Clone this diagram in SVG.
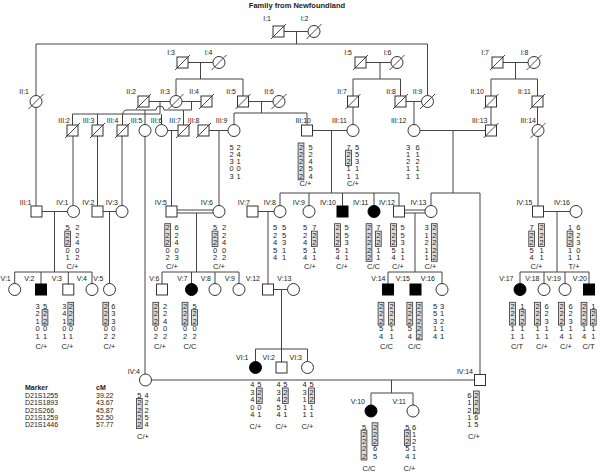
<svg xmlns="http://www.w3.org/2000/svg" xmlns:xlink="http://www.w3.org/1999/xlink" width="600" height="474" viewBox="0 0 600 474">
<style>
.sy{fill:#fff;stroke:#333;stroke-width:1}
.af{fill:#000;stroke:#000;stroke-width:1}
.sl{stroke:#333;stroke-width:0.9;fill:none}
.ln{stroke:#444;stroke-width:1;fill:none}
text{font-family:"Liberation Sans",Arial,sans-serif;fill:#222}
.lb{font-size:7px;text-anchor:end}
.a{font-size:7.5px;text-anchor:middle}
.g{font-size:7.5px;text-anchor:middle}
.bx{fill:#dcdcdc;stroke:#333;stroke-width:0.8}
.lg{font-size:7px}
.b{font-weight:bold}
</style>
<defs>
<rect id="sq" x="-5.5" y="-5.5" width="11" height="11"/>
<circle id="ci" r="6"/>
<path id="sl" d="M-7.5 7.5L7.5-7.5"/>
</defs>
<rect width="600" height="474" fill="#fff"/>
<text x="297" y="7.5" class="b" style="font-size:7.5px;text-anchor:middle">Family from Newfoundland</text>

<g id="connectors" class="ln">
<path d="M284 31.5H308M296.5 31.5V44M36 44H427.5M36 44V95.5M427.5 44V95.5"/>
<path d="M188 62.5H213M200.5 62.5V79M176 79H243M176 79V95.5M243 79V96"/>
<path d="M366 62.5H391M380 62.5V79M353 79H400.5M353 79V96M400.5 79V96"/>
<path d="M503 62.5H528M515.5 62.5V79M491 79H537.5M491 79V96M537.5 79V96"/>
<path d="M36 107.5V206"/>
<path d="M149 101.5H170M182 101.5H201"/>
<path d="M160 101.5V114M72.5 114H160M72.5 114V125M97.5 114V125M161.5 114V124.5"/>
<path d="M191.5 101.5V110H164A4 4 0 0 0 156 110H127Q122.5 110 122.5 116V125M145 110V124.5M183.5 110V125"/>
<path d="M248.5 101.5H273M261.5 101.5V113M234 113H307M234 113V124.5M307 113V125"/>
<path d="M353 107V124.5M406 101.5H421.5M414 101.5V124.5M491 107V125M537.5 107V124.5M538 136.5V206"/>
<path d="M145 136.5V374"/>
<path d="M167.5 130.5H178M171.5 130.5V206"/>
<path d="M209 130.5H228M219 130.5V205.5"/>
<path d="M312.5 130.5H347M331.5 130.5V193M280 193H399M280 193V205.5M309 193V205.5M342.5 193V206M374 193V205.5M399 193V206"/>
<path d="M420 130.5H485.5M453 130.5V193M431 193H480M431 193V205.5M480 193V374.5"/>
<path d="M73 136V205.5M97.5 136V206M122 136V205.5"/>
<path d="M42 211.5H67.5M54.5 211.5V272M14.7 272H92M14.7 272V283.5M41 272V284M68.3 272V284M92 272V283.5"/>
<path d="M103 211.5H116M109.5 211.5V283.5"/>
<path d="M176.5 210H213.2M176.5 213H213.2M196.5 213V272M162 272H239M162 272V284M191.5 272V283.5M215 272V283.5M239 272V283.5"/>
<path d="M258 211.5H274M268 211.5V284"/>
<path d="M404.5 210H425.2M404.5 213H425.2M415 213V272M388 272H442M388 272V284M442 272V283.5"/>
<path d="M543.5 211.5H570M557 211.5V272M520 272H589M520 272V283.5M544 272V283.5M565 272V283.5M589 272V284"/>
<path d="M273.5 289.5H287.5M281.5 289.5V349M255.5 349H307.5M255.5 349V361.5M281.5 349V362M307.5 349V361.5"/>
<path d="M151.5 380H474.5M391.5 380V393M371 393H413M371 393V405M413 393V405"/>
</g>

<g id="I1"><use xlink:href="#sq" x="278.5" y="31.5" class="sy"/><use xlink:href="#sl" x="278.5" y="31.5" class="sl"/><text class="lb" x="271" y="21">I:1</text></g>
<g id="I2"><use xlink:href="#ci" x="314" y="31.5" class="sy"/><use xlink:href="#sl" x="314" y="31.5" class="sl"/><text class="lb" x="308.5" y="21">I:2</text></g>
<g id="I3"><use xlink:href="#sq" x="182.5" y="62.5" class="sy"/><use xlink:href="#sl" x="182.5" y="62.5" class="sl"/><text class="lb" x="175" y="55">I:3</text></g>
<g id="I4"><use xlink:href="#ci" x="219" y="62.5" class="sy"/><use xlink:href="#sl" x="219" y="62.5" class="sl"/><text class="lb" x="212.5" y="55">I:4</text></g>
<g id="I5"><use xlink:href="#sq" x="360.5" y="62.5" class="sy"/><use xlink:href="#sl" x="360.5" y="62.5" class="sl"/><text class="lb" x="352" y="55">I:5</text></g>
<g id="I6"><use xlink:href="#ci" x="397" y="62.5" class="sy"/><use xlink:href="#sl" x="397" y="62.5" class="sl"/><text class="lb" x="391.5" y="55">I:6</text></g>
<g id="I7"><use xlink:href="#sq" x="497.5" y="62.5" class="sy"/><use xlink:href="#sl" x="497.5" y="62.5" class="sl"/><text class="lb" x="489" y="55">I:7</text></g>
<g id="I8"><use xlink:href="#ci" x="534" y="62.5" class="sy"/><use xlink:href="#sl" x="534" y="62.5" class="sl"/><text class="lb" x="528.5" y="55">I:8</text></g>

<g id="II1"><use xlink:href="#ci" x="36" y="101.5" class="sy"/><use xlink:href="#sl" x="36" y="101.5" class="sl"/><text class="lb" x="29" y="93.5">II:1</text></g>
<g id="II2"><use xlink:href="#sq" x="143.5" y="101.5" class="sy"/><use xlink:href="#sl" x="143.5" y="101.5" class="sl"/><text class="lb" x="136" y="93.5">II:2</text></g>
<g id="II3"><use xlink:href="#ci" x="176" y="101.5" class="sy"/><use xlink:href="#sl" x="176" y="101.5" class="sl"/><text class="lb" x="170" y="93.5">II:3</text></g>
<g id="II4"><use xlink:href="#sq" x="206.5" y="101.5" class="sy"/><use xlink:href="#sl" x="206.5" y="101.5" class="sl"/><text class="lb" x="199" y="93.5">II:4</text></g>
<g id="II5"><use xlink:href="#sq" x="243" y="101.5" class="sy"/><use xlink:href="#sl" x="243" y="101.5" class="sl"/><text class="lb" x="236" y="93.5">II:5</text></g>
<g id="II6"><use xlink:href="#ci" x="279" y="101.5" class="sy"/><use xlink:href="#sl" x="279" y="101.5" class="sl"/><text class="lb" x="274" y="93.5">II:6</text></g>
<g id="II7"><use xlink:href="#sq" x="353" y="101.5" class="sy"/><use xlink:href="#sl" x="353" y="101.5" class="sl"/><text class="lb" x="347" y="93.5">II:7</text></g>
<g id="II8"><use xlink:href="#sq" x="400.5" y="101.5" class="sy"/><use xlink:href="#sl" x="400.5" y="101.5" class="sl"/><text class="lb" x="396" y="93.5">II:8</text></g>
<g id="II9"><use xlink:href="#ci" x="427.5" y="101.5" class="sy"/><use xlink:href="#sl" x="427.5" y="101.5" class="sl"/><text class="lb" x="422.5" y="93.5">II:9</text></g>
<g id="II10"><use xlink:href="#sq" x="491" y="101.5" class="sy"/><use xlink:href="#sl" x="491" y="101.5" class="sl"/><text class="lb" x="484" y="93.5">II:10</text></g>
<g id="II11"><use xlink:href="#sq" x="537.5" y="101.5" class="sy"/><use xlink:href="#sl" x="537.5" y="101.5" class="sl"/><text class="lb" x="531" y="93.5">II:11</text></g>

<g id="III2"><use xlink:href="#sq" x="72.5" y="130.5" class="sy"/><use xlink:href="#sl" x="72.5" y="130.5" class="sl"/><text class="lb" x="70" y="122.5">III:2</text></g>
<g id="III3"><use xlink:href="#sq" x="97.5" y="130.5" class="sy"/><use xlink:href="#sl" x="97.5" y="130.5" class="sl"/><text class="lb" x="94.5" y="122.5">III:3</text></g>
<g id="III4"><use xlink:href="#sq" x="122.5" y="130.5" class="sy"/><use xlink:href="#sl" x="122.5" y="130.5" class="sl"/><text class="lb" x="118.5" y="122.5">III:4</text></g>
<g id="III5"><use xlink:href="#ci" x="145" y="130.5" class="sy"/><text class="lb" x="142.5" y="122.5">III:5</text></g>
<g id="III6"><use xlink:href="#ci" x="161.5" y="130.5" class="sy"/><text class="lb" x="162.5" y="122.5">III:6</text></g>
<g id="III7"><use xlink:href="#sq" x="183.5" y="130.5" class="sy"/><use xlink:href="#sl" x="183.5" y="130.5" class="sl"/><text class="lb" x="181" y="122.5">III:7</text></g>
<g id="III8"><use xlink:href="#sq" x="203.5" y="130.5" class="sy"/><use xlink:href="#sl" x="203.5" y="130.5" class="sl"/><text class="lb" x="199.5" y="122.5">III:8</text></g>
<g id="III9"><use xlink:href="#ci" x="234" y="130.5" class="sy"/><text class="lb" x="227.5" y="122.5">III:9</text>
<text class="a" x="231.5 231.5 231.5 231.5 231.5" y="149.7 156.9 164.1 171.3 178.5">52303</text>
<text class="a" x="238.5 238.5 238.5 238.5 238.5" y="149.7 156.9 164.1 171.3 178.5">24101</text></g>
<g id="III10"><use xlink:href="#sq" x="307" y="130.5" class="sy"/><text class="lb" x="311" y="122.5">III:10</text>
<rect class="bx" x="298.1" y="143" width="5.8" height="36.8"/>
<text class="a" x="301 301 301 301 301" y="149.7 156.9 164.1 171.3 178.5">22222</text>
<text class="a" x="310.5 310.5 310.5 310.5 310.5" y="149.7 156.9 164.1 171.3 178.5">52454</text>
<text class="g" x="305.5" y="186">C/+</text></g>
<g id="III11"><use xlink:href="#ci" x="353" y="130.5" class="sy"/><text class="lb" x="347" y="122.5">III:11</text>
<rect class="bx" x="345.6" y="150.2" width="5.8" height="15.2"/>
<text class="a" x="348.5 348.5 348.5 348.5 348.5" y="149.7 156.9 164.1 171.3 178.5">72211</text>
<text class="a" x="357 357 357 357 357" y="149.7 156.9 164.1 171.3 178.5">55311</text>
<text class="g" x="353" y="186">C/+</text></g>
<g id="III12"><use xlink:href="#ci" x="414" y="130.5" class="sy"/><text class="lb" x="406.5" y="122.5">III:12</text>
<text class="a" x="408 408 408 408 408" y="149.7 156.9 164.1 171.3 178.5">31211</text>
<text class="a" x="417.5 417.5 417.5 417.5 417.5" y="149.7 156.9 164.1 171.3 178.5">61211</text></g>
<g id="III13"><use xlink:href="#sq" x="491" y="130.5" class="sy"/><use xlink:href="#sl" x="491" y="130.5" class="sl"/><text class="lb" x="487.5" y="122.5">III:13</text></g>
<g id="III14"><use xlink:href="#ci" x="538" y="130.5" class="sy"/><use xlink:href="#sl" x="538" y="130.5" class="sl"/><text class="lb" x="536" y="122.5">III:14</text></g>

<g id="III1"><use xlink:href="#sq" x="36.5" y="211.5" class="sy"/><text class="lb" x="31.5" y="204.5">III:1</text></g>
<g id="IV1"><use xlink:href="#ci" x="73.5" y="211.5" class="sy"/><text class="lb" x="68.5" y="204.5">IV:1</text>
<rect class="bx" x="64.8" y="231.1" width="5.8" height="15.4"/>
<text class="a" x="67.7 67.7 67.7 67.7 67.7" y="230.4 237.8 245.2 252.6 260">52201</text>
<text class="a" x="77.3 77.3 77.3 77.3 77.3" y="230.4 237.8 245.2 252.6 260">22402</text>
<text class="g" x="72.5" y="269.4">C/+</text></g>
<g id="IV2"><use xlink:href="#sq" x="97.5" y="211.5" class="sy"/><text class="lb" x="94.5" y="204.5">IV:2</text></g>
<g id="IV3"><use xlink:href="#ci" x="122" y="211.5" class="sy"/><text class="lb" x="118" y="204.5">IV:3</text></g>
<g id="IV5"><use xlink:href="#sq" x="171.5" y="211.5" class="sy"/><text class="lb" x="167" y="204.5">IV:5</text>
<rect class="bx" x="164.8" y="223.7" width="5.8" height="22.8"/>
<text class="a" x="167.7 167.7 167.7 167.7 167.7" y="230.4 237.8 245.2 252.6 260">22202</text>
<text class="a" x="176.7 176.7 176.7 176.7 176.7" y="230.4 237.8 245.2 252.6 260">62403</text>
<text class="g" x="172" y="269.4">C/+</text></g>
<g id="IV6"><use xlink:href="#ci" x="219" y="211.5" class="sy"/><text class="lb" x="213" y="204.5">IV:6</text>
<rect class="bx" x="212.1" y="231.1" width="5.8" height="15.4"/>
<text class="a" x="215 215 215 215 215" y="230.4 237.8 245.2 252.6 260">52202</text>
<text class="a" x="224 224 224 224 224" y="230.4 237.8 245.2 252.6 260">22402</text>
<text class="g" x="219" y="269.4">C/+</text></g>
<g id="IV7"><use xlink:href="#sq" x="252.5" y="211.5" class="sy"/><text class="lb" x="250" y="204.5">IV:7</text></g>
<g id="IV8"><use xlink:href="#ci" x="280" y="211.5" class="sy"/><text class="lb" x="276" y="204.5">IV:8</text>
<text class="a" x="275 275 275 275 275" y="230.4 237.8 245.2 252.6 260">52454</text>
<text class="a" x="284 284 284 284 284" y="230.4 237.8 245.2 252.6 260">55311</text></g>
<g id="IV9"><use xlink:href="#ci" x="309" y="211.5" class="sy"/><text class="lb" x="305" y="204.5">IV:9</text>
<rect class="bx" x="311.4" y="231.1" width="5.8" height="15.4"/>
<text class="a" x="305 305 305 305 305" y="230.4 237.8 245.2 252.6 260">52454</text>
<text class="a" x="314.3 314.3 314.3 314.3 314.3" y="230.4 237.8 245.2 252.6 260">72211</text>
<text class="g" x="310" y="269.4">C/+</text></g>
<g id="IV10"><use xlink:href="#sq" x="342.5" y="211.5" class="af"/><text class="lb" x="336" y="204.5">IV:10</text>
<rect class="bx" x="334.6" y="223.7" width="5.8" height="22.8"/>
<text class="a" x="337.5 337.5 337.5 337.5 337.5" y="230.4 237.8 245.2 252.6 260">22254</text>
<text class="a" x="346.7 346.7 346.7 346.7 346.7" y="230.4 237.8 245.2 252.6 260">55311</text>
<text class="g" x="342" y="269.4">C/+</text></g>
<g id="IV11"><use xlink:href="#ci" x="374" y="211.5" class="af"/><text class="lb" x="368.5" y="204.5">IV:11</text>
<rect class="bx" x="366.1" y="223.7" width="5.8" height="37.6"/>
<rect class="bx" x="375.4" y="231.1" width="5.8" height="15.4"/>
<text class="a" x="369 369 369 369 369" y="230.4 237.8 245.2 252.6 260">22222</text>
<text class="a" x="378.3 378.3 378.3 378.3 378.3" y="230.4 237.8 245.2 252.6 260">72211</text>
<text class="g" x="373.5" y="269.4">C/C</text></g>
<g id="IV12"><use xlink:href="#sq" x="399" y="211.5" class="sy"/><text class="lb" x="395" y="204.5">IV:12</text>
<rect class="bx" x="390.6" y="223.7" width="5.8" height="22.8"/>
<text class="a" x="393.5 393.5 393.5 393.5 393.5" y="230.4 237.8 245.2 252.6 260">22254</text>
<text class="a" x="402.7 402.7 402.7 402.7 402.7" y="230.4 237.8 245.2 252.6 260">55311</text>
<text class="g" x="398" y="269.4">C/+</text></g>
<g id="IV13"><use xlink:href="#ci" x="431" y="211.5" class="sy"/><text class="lb" x="426.5" y="204.5">IV:13</text>
<rect class="bx" x="431.4" y="223.7" width="5.8" height="37.6"/>
<text class="a" x="426.7 426.7 426.7 426.7 426.7" y="230.4 237.8 245.2 252.6 260">31211</text>
<text class="a" x="434.3 434.3 434.3 434.3 434.3" y="230.4 237.8 245.2 252.6 260">22222</text>
<text class="g" x="430.5" y="269.4">C/+</text></g>
<g id="IV15"><use xlink:href="#sq" x="538" y="211.5" class="sy"/><text class="lb" x="532.5" y="204.5">IV:15</text>
<rect class="bx" x="528.8" y="231.1" width="5.8" height="15.4"/>
<rect class="bx" x="538.6" y="223.7" width="5.8" height="22.8"/>
<text class="a" x="531.7 531.7 531.7 531.7 531.7" y="230.4 237.8 245.2 252.6 260">72254</text>
<text class="a" x="541.5 541.5 541.5 541.5 541.5" y="230.4 237.8 245.2 252.6 260">22211</text>
<text class="g" x="536.5" y="269.4">C/+</text></g>
<g id="IV16"><use xlink:href="#ci" x="576" y="211.5" class="sy"/><text class="lb" x="570" y="204.5">IV:16</text>
<rect class="bx" x="567.1" y="231.1" width="5.8" height="15.4"/>
<text class="a" x="570 570 570 570 570" y="230.4 237.8 245.2 252.6 260">12211</text>
<text class="a" x="578.3 578.3 578.3 578.3 578.3" y="230.4 237.8 245.2 252.6 260">62301</text>
<text class="g" x="574" y="269.4">T/+</text></g>

<g id="V1"><use xlink:href="#ci" x="14.7" y="289.5" class="sy"/><text class="lb" x="0.5" y="281" style="text-anchor:start">V:1</text></g>
<g id="V2"><use xlink:href="#sq" x="41" y="289.5" class="af"/><text class="lb" x="34.5" y="281">V:2</text>
<rect class="bx" x="42.1" y="309.7" width="5.8" height="15.4"/>
<text class="a" x="37.7 37.7 37.7 37.7 37.7" y="309 316.4 323.8 331.2 338.6">32101</text>
<text class="a" x="45 45 45 45 45" y="309 316.4 323.8 331.2 338.6">52201</text>
<text class="g" x="41.5" y="349.4">C/+</text></g>
<g id="V3"><use xlink:href="#sq" x="68.3" y="289.5" class="sy"/><text class="lb" x="62" y="281">V:3</text>
<rect class="bx" x="67.9" y="302.3" width="5.8" height="22.8"/>
<text class="a" x="64.3 64.3 64.3 64.3 64.3" y="309 316.4 323.8 331.2 338.6">34101</text>
<text class="a" x="70.8 70.8 70.8 70.8 70.8" y="309 316.4 323.8 331.2 338.6">22201</text>
<text class="g" x="67.5" y="349.4">C/+</text></g>
<g id="V4"><use xlink:href="#ci" x="92" y="289.5" class="sy"/><text class="lb" x="87" y="281">V:4</text></g>
<g id="V5"><use xlink:href="#ci" x="109.5" y="289.5" class="sy"/><text class="lb" x="103.5" y="281">V:5</text>
<rect class="bx" x="102.9" y="302.3" width="5.8" height="22.8"/>
<text class="a" x="105.8 105.8 105.8 105.8 105.8" y="309 316.4 323.8 331.2 338.6">22202</text>
<text class="a" x="113.3 113.3 113.3 113.3 113.3" y="309 316.4 323.8 331.2 338.6">63302</text>
<text class="g" x="109.5" y="349.4">C/+</text></g>
<g id="V6"><use xlink:href="#sq" x="162" y="289.5" class="sy"/><text class="lb" x="159.5" y="281">V:6</text>
<rect class="bx" x="152.9" y="302.3" width="5.8" height="22.8"/>
<text class="a" x="155.8 155.8 155.8 155.8 155.8" y="309 316.4 323.8 331.2 338.6">22202</text>
<text class="a" x="165 165 165 165 165" y="309 316.4 323.8 331.2 338.6">22402</text>
<text class="g" x="160" y="349.4">C/+</text></g>
<g id="V7"><use xlink:href="#ci" x="191.5" y="289.5" class="af"/><text class="lb" x="187.5" y="281">V:7</text>
<rect class="bx" x="182.1" y="302.3" width="5.8" height="22.8"/>
<rect class="bx" x="191.6" y="309.7" width="5.8" height="15.4"/>
<text class="a" x="185 185 185 185 185" y="309 316.4 323.8 331.2 338.6">22202</text>
<text class="a" x="194.5 194.5 194.5 194.5 194.5" y="309 316.4 323.8 331.2 338.6">52202</text>
<text class="g" x="190" y="349.4">C/C</text></g>
<g id="V8"><use xlink:href="#ci" x="215" y="289.5" class="sy"/><text class="lb" x="211" y="281">V:8</text></g>
<g id="V9"><use xlink:href="#ci" x="239" y="289.5" class="sy"/><text class="lb" x="235" y="281">V:9</text></g>
<g id="V12"><use xlink:href="#sq" x="268" y="289.5" class="sy"/><text class="lb" x="260" y="281">V:12</text></g>
<g id="V13"><use xlink:href="#ci" x="293.5" y="289.5" class="sy"/><text class="lb" x="291.5" y="281">V:13</text></g>
<g id="V14"><use xlink:href="#sq" x="388" y="289.5" class="af"/><text class="lb" x="385.5" y="281">V:14</text>
<rect class="bx" x="378.1" y="302.3" width="5.8" height="22.8"/>
<rect class="bx" x="388.6" y="302.3" width="5.8" height="22.8"/>
<text class="a" x="381 381 381 381 381" y="309 316.4 323.8 331.2 338.6">22254</text>
<text class="a" x="391.5 391.5 391.5 391.5 391.5" y="309 316.4 323.8 331.2 338.6">22211</text>
<text class="g" x="386.5" y="349.4">C/C</text></g>
<g id="V15"><use xlink:href="#sq" x="415.5" y="289.5" class="af"/><text class="lb" x="410" y="281">V:15</text>
<rect class="bx" x="406.9" y="302.3" width="5.8" height="22.8"/>
<rect class="bx" x="416.3" y="302.3" width="5.8" height="37.6"/>
<text class="a" x="409.8 409.8 409.8 409.8 409.8" y="309 316.4 323.8 331.2 338.6">22254</text>
<text class="a" x="419.2 419.2 419.2 419.2 419.2" y="309 316.4 323.8 331.2 338.6">22222</text>
<text class="g" x="414.5" y="349.4">C/C</text></g>
<g id="V16"><use xlink:href="#ci" x="442" y="289.5" class="sy"/><text class="lb" x="435" y="281">V:16</text>
<text class="a" x="435 435 435 435 435" y="309 316.4 323.8 331.2 338.6">55314</text>
<text class="a" x="442 442 442 442 442" y="309 316.4 323.8 331.2 338.6">31211</text></g>
<g id="V17"><use xlink:href="#ci" x="520" y="289.5" class="af"/><text class="lb" x="513.5" y="281">V:17</text>
<rect class="bx" x="509.6" y="302.3" width="5.8" height="22.8"/>
<rect class="bx" x="519.4" y="309.7" width="5.8" height="15.4"/>
<text class="a" x="512.5 512.5 512.5 512.5 512.5" y="309 316.4 323.8 331.2 338.6">22211</text>
<text class="a" x="522.3 522.3 522.3 522.3 522.3" y="309 316.4 323.8 331.2 338.6">12211</text>
<text class="g" x="517" y="349.4">C/T</text></g>
<g id="V18"><use xlink:href="#ci" x="544" y="289.5" class="sy"/><text class="lb" x="539.5" y="281">V:18</text>
<rect class="bx" x="534.6" y="302.3" width="5.8" height="22.8"/>
<text class="a" x="537.5 537.5 537.5 537.5 537.5" y="309 316.4 323.8 331.2 338.6">22211</text>
<text class="a" x="546.7 546.7 546.7 546.7 546.7" y="309 316.4 323.8 331.2 338.6">62311</text>
<text class="g" x="542" y="349.4">C/+</text></g>
<g id="V19"><use xlink:href="#ci" x="565" y="289.5" class="sy"/><text class="lb" x="561" y="281">V:19</text>
<rect class="bx" x="558.6" y="302.3" width="5.8" height="22.8"/>
<text class="a" x="561.5 561.5 561.5 561.5 561.5" y="309 316.4 323.8 331.2 338.6">22214</text>
<text class="a" x="570.7 570.7 570.7 570.7 570.7" y="309 316.4 323.8 331.2 338.6">62311</text>
<text class="g" x="566" y="349.4">C/+</text></g>
<g id="V20"><use xlink:href="#sq" x="589" y="289.5" class="af"/><text class="lb" x="587" y="281">V:20</text>
<rect class="bx" x="581.1" y="302.3" width="5.8" height="22.8"/>
<rect class="bx" x="590.4" y="309.7" width="5.8" height="15.4"/>
<text class="a" x="584 584 584 584 584" y="309 316.4 323.8 331.2 338.6">22214</text>
<text class="a" x="593.3 593.3 593.3 593.3 593.3" y="309 316.4 323.8 331.2 338.6">12211</text>
<text class="g" x="588.5" y="349.4">C/T</text></g>

<g id="VI1"><use xlink:href="#ci" x="255.5" y="367.5" class="af"/><text class="lb" x="248.5" y="359.5">VI:1</text>
<rect class="bx" x="256.4" y="388" width="5.8" height="15.5"/>
<text class="a" x="252.3 252.3 252.3 252.3 252.3" y="387.2 394.7 402.2 409.7 417.2">43404</text>
<text class="a" x="259.3 259.3 259.3 259.3 259.3" y="387.2 394.7 402.2 409.7 417.2">52201</text>
<text class="g" x="255.5" y="428.7">C/+</text></g>
<g id="VI2"><use xlink:href="#sq" x="281.5" y="367.5" class="sy"/><text class="lb" x="275" y="359.5">VI:2</text>
<rect class="bx" x="282.4" y="388" width="5.8" height="15.5"/>
<text class="a" x="278.5 278.5 278.5 278.5 278.5" y="387.2 394.7 402.2 409.7 417.2">43454</text>
<text class="a" x="285.3 285.3 285.3 285.3 285.3" y="387.2 394.7 402.2 409.7 417.2">52211</text>
<text class="g" x="281.5" y="428.7">C/+</text></g>
<g id="VI3"><use xlink:href="#ci" x="307.5" y="367.5" class="sy"/><text class="lb" x="302" y="359.5">VI:3</text>
<rect class="bx" x="308.6" y="388" width="5.8" height="15.5"/>
<text class="a" x="304.5 304.5 304.5 304.5 304.5" y="387.2 394.7 402.2 409.7 417.2">43111</text>
<text class="a" x="311.5 311.5 311.5 311.5 311.5" y="387.2 394.7 402.2 409.7 417.2">52211</text>
<text class="g" x="307.5" y="428.7">C/+</text></g>

<g id="IV4"><use xlink:href="#ci" x="145.5" y="380" class="sy"/><text class="lb" x="140" y="373.5">IV:4</text>
<rect class="bx" x="136.4" y="398.4" width="5.8" height="30.2"/>
<text class="a" x="139.3 139.3 139.3 139.3 139.3" y="397.7 405.1 412.5 419.9 427.3">52222</text>
<text class="a" x="146.7 146.7 146.7 146.7 146.7" y="397.7 405.1 412.5 419.9 427.3">42254</text>
<text class="g" x="143" y="438.7">C/+</text></g>
<g id="IV14"><use xlink:href="#sq" x="480" y="380" class="sy"/><text class="lb" x="473" y="373.5">IV:14</text>
<rect class="bx" x="473.4" y="391" width="5.8" height="22.8"/>
<text class="a" x="469.3 469.3 469.3 469.3 469.3" y="397.7 405.1 412.5 419.9 427.3">61211</text>
<text class="a" x="476.3 476.3 476.3 476.3 476.3" y="397.7 405.1 412.5 419.9 427.3">22265</text>
<text class="g" x="474" y="438.7">C/+</text></g>
<g id="V10"><use xlink:href="#ci" x="371" y="411" class="af"/><text class="lb" x="365" y="403.5">V:10</text>
<rect class="bx" x="361.1" y="430.1" width="5.8" height="29.9"/>
<rect class="bx" x="372.1" y="422.8" width="5.8" height="22.6"/>
<text class="a" x="364 364 364 364 364" y="429.5 436.8 444.1 451.4 458.7">52222</text>
<text class="a" x="375 375 375 375 375" y="429.5 436.8 444.1 451.4 458.7">22265</text>
<text class="g" x="369" y="470.5">C/C</text></g>
<g id="V11"><use xlink:href="#ci" x="413" y="411" class="sy"/><text class="lb" x="406" y="403.5">V:11</text>
<rect class="bx" x="404.4" y="430.1" width="5.8" height="15.3"/>
<text class="a" x="407.3 407.3 407.3 407.3 407.3" y="429.5 436.8 444.1 451.4 458.7">52254</text>
<text class="a" x="414 414 414 414 414" y="429.5 436.8 444.1 451.4 458.7">61211</text>
<text class="g" x="409.5" y="470.5">C/+</text></g>

<g id="legend" class="lg">
<text x="25" y="390.4" class="b">Marker</text>
<text x="96" y="390.4" class="b">cM</text>
<text x="25" y="397.7">D21S1255</text><text x="96" y="397.7">39.22</text>
<text x="25" y="405.1">D21S1893</text><text x="96" y="405.1">43.67</text>
<text x="25" y="412.5">D21S266</text><text x="96" y="412.5">45.87</text>
<text x="25" y="419.9">D21S1259</text><text x="96" y="419.9">52.50</text>
<text x="25" y="427.3">D21S1446</text><text x="96" y="427.3">57.77</text>
</g>
</svg>
